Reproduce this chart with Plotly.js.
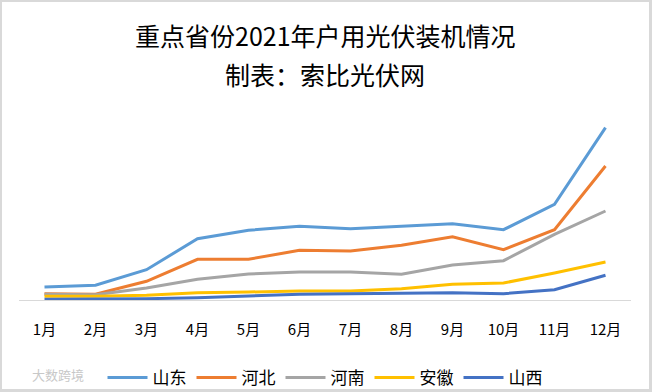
<!DOCTYPE html>
<html>
<head>
<meta charset="utf-8">
<script src="https://cdn.plot.ly/plotly-3.0.1.min.js"></script>
<style>
html,body{margin:0;padding:0;background:#d9d9d9;}
#chart{position:absolute;left:2px;top:2px;width:647px;height:387px;background:#fff;}
</style>
</head>
<body>
<div id="chart"></div>
<script>
// Data (no value axis shown; units are relative)
const months = ['1月','2月','3月','4月','5月','6月','7月','8月','9月','10月','11月','12月'];
const shandong = [13, 14.7, 30.3, 61.3, 69.7, 73.7, 71.3, 74, 76.3, 70.3, 95.7, 172.3];
const hebei    = [6.3, 5.7, 18.7, 40.7, 40.7, 49.7, 49, 54.7, 63.3, 50.3, 70.3, 134];
const henan    = [5.7, 5.3, 12, 20.7, 26, 28, 28, 25.7, 35, 39.3, 65.7, 89];
const anhui    = [3.7, 3.7, 4.7, 7.3, 8, 9, 9, 11.3, 15.7, 17, 27, 38];
const shanxi   = [0.7, 0.7, 1.3, 2.3, 4.3, 5.7, 6.3, 7, 7.3, 6.3, 10.3, 24.7];

const seriesNames = ['山东','河北','河南','安徽','山西'];
const seriesData = [shandong, hebei, henan, anhui, shanxi];
const colors = ['#5B9BD5','#ED7D31','#A5A5A5','#FFC000','#4472C4'];
const titleLines = ['重点省份2021年户用光伏装机情况', '制表：索比光伏网'];

const traces = seriesData.map((d, i) => ({
  type: 'scatter', mode: 'lines', name: seriesNames[i],
  x: months, y: d,
  line: {color: colors[i], width: 3}
}));

const font = '"Microsoft YaHei", "Noto Sans CJK SC", sans-serif';
const layout = {
  width: 647, height: 387,
  paper_bgcolor: '#ffffff', plot_bgcolor: '#ffffff',
  margin: {l: 17, r: 18, t: 108, b: 89, autoexpand: false},
  font: {family: font, color: '#000'},
  xaxis: {
    type: 'category', showgrid: false, zeroline: false, automargin: false,
    showline: true, linecolor: '#d9d9d9', linewidth: 1,
    ticks: '', ticklabelstandoff: 16,
    tickfont: {family: font, size: 15, color: '#000'},
    range: [-0.5, 11.5], fixedrange: true
  },
  yaxis: {
    range: [0, 190], visible: false, showgrid: false, zeroline: false, fixedrange: true
  },
  showlegend: true,
  legend: {
    orientation: 'h', x: 0.5, xanchor: 'center', y: -0.41, yanchor: 'middle',
    font: {family: font, size: 17, color: '#000'},
    itemwidth: 40, tracegroupgap: 0
  },
  annotations: [
    {text: titleLines[0], xref: 'paper', yref: 'paper', x: 0.5, y: 1.397,
     xanchor: 'center', yanchor: 'middle', showarrow: false,
     font: {family: font, size: 25, color: '#000'}},
    {text: titleLines[1], xref: 'paper', yref: 'paper', x: 0.5, y: 1.19,
     xanchor: 'center', yanchor: 'middle', showarrow: false,
     font: {family: font, size: 25, color: '#000'}},
    {text: '大数跨境', xref: 'paper', yref: 'paper', x: 0.018, y: -0.39,
     xanchor: 'left', yanchor: 'middle', showarrow: false,
     font: {family: font, size: 13, color: '#c8c8c8'}}
  ]
};

Plotly.newPlot('chart', traces, layout, {displayModeBar: false, staticPlot: true});
</script>
</body>
</html>
